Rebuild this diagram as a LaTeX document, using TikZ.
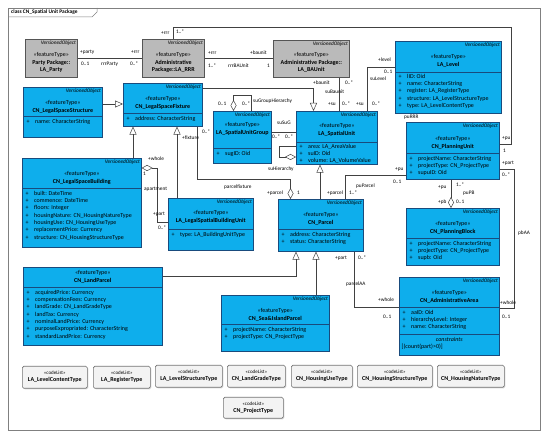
\documentclass[tikz,border=0pt]{standalone}
\usepackage{fontspec}
\setmainfont{Carlito}
\usepackage{xcolor}
\usetikzlibrary{positioning,arrows.meta,shadows}

\definecolor{clsfill}{RGB}{14,174,236}
\definecolor{clsline}{RGB}{25,75,125}
\definecolor{pkgfill}{RGB}{186,186,186}
\definecolor{pkgline}{RGB}{85,85,85}
\definecolor{cdfill}{RGB}{243,243,243}
\definecolor{cdline}{RGB}{115,115,115}
\definecolor{wirecol}{RGB}{65,65,65}

\newcommand{\attr}[1]{\makebox[8.5pt][l]{+}#1}

\begin{document}
\begin{tikzpicture}[x=1pt, y=-1pt,
    cls/.style={rectangle, draw=clsline, line width=0.6pt, fill=clsfill, anchor=north west, inner sep=0pt,
        drop shadow={shadow xshift=1pt, shadow yshift=-1pt, opacity=0.3}},
    pkg/.style={cls, draw=pkgline, fill=pkgfill},
    cdl/.style={cls, draw=cdline, fill=cdfill, rounded corners=1.5pt},
    vo/.style={anchor=north east, inner sep=1.5pt, font=\fontsize{5.3}{6}\selectfont\itshape},
    hd/.style={anchor=north, inner sep=0pt, align=center, font=\fontsize{6}{7.7}\selectfont},
    attrs/.style={anchor=north west, inner sep=0pt, align=left, font=\fontsize{6}{7.3}\selectfont},
    div/.style={draw=clsline, line width=0.6pt},
    lbl/.style={anchor=west, inner sep=0pt, font=\fontsize{5.3}{6}\selectfont},
    wire/.style={draw=wirecol, line width=0.5pt},
    gen/.style={wire, -{Triangle[open, length=8pt, width=7pt]}},
    agg/.style={wire, {Diamond[open, length=11pt, width=6pt]}-}
]
\useasboundingbox (0,0) rectangle (550,441);

% frame
\node[draw=gray, line width=0.6pt, minimum width=532, minimum height=422, anchor=north west, inner sep=0pt] (frame) at (8,8) {};
\draw[gray, line width=0.5pt] (8,17) -- (92,17) -- (97,12) -- (97,8);
\node[anchor=west, inner sep=0pt, font=\fontsize{5.4}{6}\selectfont\bfseries] (title) at (11,12.5) {class CN\_Spatial Unit Package};

% packages
\node[pkg, minimum width=52, minimum height=38] (party) at (25,39) {};
\node[vo] (party-vo) at (party.north east) {VersionedObject};
\node[hd, below=13pt of party.north] (party-hd) {«featureType»\\\textbf{Party Package::}\\\textbf{LA\_Party}};

\node[pkg, minimum width=62, minimum height=38] (rrr) at (142,39) {};
\node[vo] (rrr-vo) at (rrr.north east) {VersionedObject};
\node[hd, below=13pt of rrr.north] (rrr-hd) {«featureType»\\\textbf{Administrative}\\\textbf{Package::LA\_RRR}};

\node[pkg, minimum width=76, minimum height=37] (baunit) at (273,40) {};
\node[vo] (baunit-vo) at (baunit.north east) {VersionedObject};
\node[hd, below=12pt of baunit.north] (baunit-hd) {«featureType»\\\textbf{Administrative Package::}\\\textbf{LA\_BAUnit}};

% level
\node[cls, minimum width=106, minimum height=72] (level) at (395,41) {};
\node[vo] (level-vo) at (level.north east) {VersionedObject};
\node[hd, below=13pt of level.north] (level-hd) {«featureType»\\\textbf{LA\_Level}};
\draw[div] ([yshift=-31pt]level.north west) -- ([yshift=-31pt]level.north east);
\node[attrs, below right=33pt and 3.5pt of level.north west] (level-at) {\attr{lID: Oid}\\\attr{name: CharacterString}\\\attr{register: LA\_RegisterType}\\\attr{structure: LA\_LevelStructureType}\\\attr{type: LA\_LevelContentType}};

% legal space structure / fixture
\node[cls, minimum width=79, minimum height=50] (lss) at (23,87) {};
\node[vo] (lss-vo) at (lss.north east) {VersionedObject};
\node[hd, below=13pt of lss.north] (lss-hd) {«featureType»\\\textbf{CN\_LegalSpaceStructure}};
\draw[div] ([yshift=-29pt]lss.north west) -- ([yshift=-29pt]lss.north east);
\node[attrs, below right=32pt and 3.5pt of lss.north west] (lss-at) {\attr{name: CharacterString}};

\node[cls, minimum width=79, minimum height=43] (lsf) at (123,83) {};
\node[vo] (lsf-vo) at (lsf.north east) {VersionedObject};
\node[hd, below=13pt of lsf.north] (lsf-hd) {«featureType»\\\textbf{CN\_LegalSpaceFixture}};
\draw[div] ([yshift=-30pt]lsf.north west) -- ([yshift=-30pt]lsf.north east);
\node[attrs, below right=33pt and 3.5pt of lsf.north west] (lsf-at) {\attr{address: CharacterString}};

% spatial unit group / spatial unit
\node[cls, minimum width=58, minimum height=52] (sug) at (213,111) {};
\node[vo] (sug-vo) at (sug.north east) {VersionedObject};
\node[hd, below=11.5pt of sug.north] (sug-hd) {«featureType»\\\textbf{LA\_SpatialUnitGroup}};
\draw[div] ([yshift=-37pt]sug.north west) -- ([yshift=-37pt]sug.north east);
\node[attrs, below right=40pt and 3.5pt of sug.north west] (sug-at) {\attr{sugID: Oid}};

\node[cls, minimum width=81, minimum height=53] (su) at (296,111) {};
\node[vo] (su-vo) at (su.north east) {VersionedObject};
\node[hd, below=12pt of su.north] (su-hd) {«featureType»\\\textbf{LA\_SpatialUnit}};
\draw[div] ([yshift=-31pt]su.north west) -- ([yshift=-31pt]su.north east);
\node[attrs, below right=33pt and 3.5pt of su.north west] (su-at) {\attr{area: LA\_AreaValue}\\\attr{suID: Oid}\\\attr{volume: LA\_VolumeValue}};

% planning unit / block
\node[cls, minimum width=93, minimum height=57] (pu) at (406,122) {};
\node[vo] (pu-vo) at (pu.north east) {VersionedObject};
\node[hd, below=14pt of pu.north] (pu-hd) {«featureType»\\\textbf{CN\_PlanningUnit}};
\draw[div] ([yshift=-31pt]pu.north west) -- ([yshift=-31pt]pu.north east);
\node[attrs, below right=34pt and 3.5pt of pu.north west] (pu-at) {\attr{projectName: CharacterString}\\\attr{projectType: CN\_ProjectType}\\\attr{supuID: Oid}};

\node[cls, minimum width=93, minimum height=57] (pb) at (406,208) {};
\node[vo] (pb-vo) at (pb.north east) {VersionedObject};
\node[hd, below=13pt of pb.north] (pb-hd) {«featureType»\\\textbf{CN\_PlanningBlock}};
\draw[div] ([yshift=-30pt]pb.north west) -- ([yshift=-30pt]pb.north east);
\node[attrs, below right=33pt and 3.5pt of pb.north west] (pb-at) {\attr{projectName: CharacterString}\\\attr{projectType: CN\_ProjectType}\\\attr{supb: Oid}};

% legal space building / unit
\node[cls, minimum width=119, minimum height=89] (lsb) at (22,158) {};
\node[vo] (lsb-vo) at (lsb.north east) {VersionedObject};
\node[hd, below=13pt of lsb.north] (lsb-hd) {«featureType»\\\textbf{CN\_LegalSpaceBuilding}};
\draw[div] ([yshift=-30pt]lsb.north west) -- ([yshift=-30pt]lsb.north east);
\node[attrs, below right=33pt and 3.5pt of lsb.north west] (lsb-at) {\attr{built: DateTime}\\\attr{commence: DateTime}\\\attr{floors: Integer}\\\attr{housingNature: CN\_HousingNatureType}\\\attr{housingUse: CN\_HousingUseType}\\\attr{replacementPrice: Currency}\\\attr{structure: CN\_HousingStructureType}};

\node[cls, minimum width=85, minimum height=52] (lsbu) at (168,198) {};
\node[vo] (lsbu-vo) at (lsbu.north east) {VersionedObject};
\node[hd, below=12pt of lsbu.north] (lsbu-hd) {«featureType»\\\textbf{LA\_LegalSpatialBuildingUnit}};
\draw[div] ([yshift=-31pt]lsbu.north west) -- ([yshift=-31pt]lsbu.north east);
\node[attrs, below right=34pt and 3.5pt of lsbu.north west] (lsbu-at) {\attr{type: LA\_BuildingUnitType}};

% parcels
\node[cls, minimum width=85, minimum height=52] (parcel) at (278,199) {};
\node[vo] (parcel-vo) at (parcel.north east) {VersionedObject};
\node[hd, below=13pt of parcel.north] (parcel-hd) {«featureType»\\\textbf{CN\_Parcel}};
\draw[div] ([yshift=-30pt]parcel.north west) -- ([yshift=-30pt]parcel.north east);
\node[attrs, below right=33pt and 3.5pt of parcel.north west] (parcel-at) {\attr{address: CharacterString}\\\attr{status: CharacterString}};

\node[cls, minimum width=139, minimum height=78] (landp) at (23,267) {};
\node[hd, below=3pt of landp.north] (landp-hd) {«featureType»\\\textbf{CN\_LandParcel}};
\draw[div] ([yshift=-20pt]landp.north west) -- ([yshift=-20pt]landp.north east);
\node[attrs, below right=23pt and 3.5pt of landp.north west] (landp-at) {\attr{acquiredPrice: Currency}\\\attr{compensationFees: Currency}\\\attr{landGrade: CN\_LandGradeType}\\\attr{landTax: Currency}\\\attr{nominalLandPrice: Currency}\\\attr{purposeExpropriated: CharacterString}\\\attr{standardLandPrice: Currency}};

\node[cls, minimum width=108, minimum height=56] (seap) at (221,295) {};
\node[vo] (seap-vo) at (seap.north east) {VersionedObject};
\node[hd, below=13pt of seap.north] (seap-hd) {«featureType»\\\textbf{CN\_Sea\&IslandParcel}};
\draw[div] ([yshift=-29pt]seap.north west) -- ([yshift=-29pt]seap.north east);
\node[attrs, below right=32pt and 3.5pt of seap.north west] (seap-at) {\attr{projectName: CharacterString}\\\attr{projectType: CN\_ProjectType}};

% administrative area
\node[cls, minimum width=100, minimum height=78] (aa) at (399,277) {};
\node[vo] (aa-vo) at (aa.north east) {VersionedObject};
\node[hd, below=13pt of aa.north] (aa-hd) {«featureType»\\\textbf{CN\_AdministrativeArea}};
\draw[div] ([yshift=-30pt]aa.north west) -- ([yshift=-30pt]aa.north east);
\node[attrs, below right=33pt and 3.5pt of aa.north west] (aa-at) {\attr{aaID: Oid}\\\attr{hierarchyLevel: Integer}\\\attr{name: CharacterString}};
\draw[div] ([yshift=-57pt]aa.north west) -- ([yshift=-57pt]aa.north east);
\node[hd, below=60pt of aa.north] (aa-cn) {\textit{constraints}};
\node[attrs, below right=67pt and 2.5pt of aa.north west] (aa-ct) {[(count(part)>0)]};

% code lists
\node[cdl, minimum width=65, minimum height=22] (lct) at (22,366) {};
\node[hd, below=4.5pt of lct.north] (lct-hd) {{\fontsize{5}{6}\selectfont«codeList»}\\\textbf{LA\_LevelContentType}};
\node[cdl, minimum width=57, minimum height=22] (rgt) at (93,366) {};
\node[hd, below=4.5pt of rgt.north] (rgt-hd) {{\fontsize{5}{6}\selectfont«codeList»}\\\textbf{LA\_RegisterType}};
\node[cdl, minimum width=67, minimum height=22] (lst) at (155,365) {};
\node[hd, below=4.5pt of lst.north] (lst-hd) {{\fontsize{5}{6}\selectfont«codeList»}\\\textbf{LA\_LevelStructureType}};
\node[cdl, minimum width=58, minimum height=22] (lgt) at (227,365) {};
\node[hd, below=4.5pt of lgt.north] (lgt-hd) {{\fontsize{5}{6}\selectfont«codeList»}\\\textbf{CN\_LandGradeType}};
\node[cdl, minimum width=61, minimum height=22] (hut) at (291,365) {};
\node[hd, below=4.5pt of hut.north] (hut-hd) {{\fontsize{5}{6}\selectfont«codeList»}\\\textbf{CN\_HousingUseType}};
\node[cdl, minimum width=75, minimum height=22] (hst) at (357,365) {};
\node[hd, below=4.5pt of hst.north] (hst-hd) {{\fontsize{5}{6}\selectfont«codeList»}\\\textbf{CN\_HousingStructureType}};
\node[cdl, minimum width=67, minimum height=22] (hnt) at (437,365) {};
\node[hd, below=4.5pt of hnt.north] (hnt-hd) {{\fontsize{5}{6}\selectfont«codeList»}\\\textbf{CN\_HousingNatureType}};
\node[cdl, minimum width=60, minimum height=21] (prt) at (223,397) {};
\node[hd, below=4.5pt of prt.north] (prt-hd) {{\fontsize{5}{6}\selectfont«codeList»}\\\textbf{CN\_ProjectType}};

% connectors
\draw[wire] (party.east) -- (rrr.west);
\draw[wire] (rrr.east) -- (baunit.west |- rrr.east);
\draw[wire] (rrr.north) |- (511,27) |- (pu.north east |- 0,144);
\draw[wire] (baunit.south -| 339,0) -- (su.north -| 339,0);
\draw[wire] (level.west |- 0,67) -| (su.north -| 367,0);
\draw[gen] (lss.east |- 0,104) -- (lsf.west |- 0,104);
\draw[gen] (lsb.north -| 133,0) -- (lsf.south -| 133,0);
\draw[gen] (lsbu.north -| 177,0) -- (lsf.south -| 177,0);
\draw[agg] (lsb.east |- 0,168) -| (157,222) -- (lsbu.west |- 0,222);
\draw[agg] (sug.north -| 233.5,0) |- (251,95) -- (sug.north -| 251,0);
\draw[wire] (sug.east |- 0,132) -- (su.west |- 0,132);
\draw[agg] (su.west |- 0,157) -| (279,146) -- (su.west |- 0,146);
\draw[gen] (lsf.east |- 0,88) -| (su.north -| 313.5,0);
\draw[agg] (parcel.north -| 290.5,0) |- (197,179) -- (lsf.south -| 197,0);
\draw[gen] (parcel.north -| 320,0) -- (su.south -| 320,0);
\draw[wire] (pu.west |- 0,175) -| (parcel.north -| 345,0);
\draw[agg] (pb.north -| 451,0) -- (pu.south -| 451,0);
\draw[wire] (pu.east |- 0,169) -| (514,308) -- (aa.east |- 0,308);
\draw[wire] (parcel.south -| 354,0) |- (aa.west |- 0,307);
\draw[gen] (landp.east |- 0,276) -| (parcel.south -| 296,0);
\draw[gen] (seap.north -| 316,0) -- (parcel.south -| 316,0);

% connector labels
\node[lbl] (l-party) at (80,52) {+party};
\node[lbl] (l-party-m) at (81,64) {0..1};
\node[lbl] (l-rrrparty) at (101,64) {rrrParty};
\node[lbl] (l-rrr-a) at (131,52) {+rrr};
\node[lbl] (l-rrr-am) at (130,64) {0..*};
\node[lbl] (l-rrr-b) at (208,53) {+rrr};
\node[lbl] (l-rrr-bm) at (208,66) {1..*};
\node[lbl] (l-rrrbaunit) at (228,66) {rrrBAUnit};
\node[lbl] (l-baunit-a) at (250,53) {+baunit};
\node[lbl] (l-baunit-am) at (267,66) {1};
\node[lbl] (l-rrr-c) at (161,33) {+rrr};
\node[lbl] (l-rrr-cm) at (176,32) {1..*};
\node[lbl] (l-purrr) at (404,117.5) {puRRR};
\node[lbl] (l-pu-a) at (502,138) {+pu};
\node[lbl] (l-pu-am) at (503,151) {1};
\node[lbl] (l-baunit-b) at (313,83) {+baunit};
\node[lbl] (l-baunit-bm) at (345,83) {0..*};
\node[lbl] (l-subaunit) at (325,92) {suBaunit};
\node[lbl] (l-su-a) at (328,104) {+su};
\node[lbl] (l-su-am) at (342,104) {0..*};
\node[lbl] (l-level) at (378,60) {+level};
\node[lbl] (l-level-m) at (384,72) {0..1};
\node[lbl] (l-sulevel) at (370,79) {suLevel};
\node[lbl] (l-su-b) at (356,104) {+su};
\node[lbl] (l-su-bm) at (372,104) {0..*};
\node[lbl] (l-sug-a) at (218,104) {0..1};
\node[lbl] (l-sug-b) at (242,104) {0..*};
\node[lbl] (l-sugh) at (253,101) {suGroupHierarchy};
\node[lbl] (l-susug) at (277,123) {suSuG};
\node[lbl] (l-susug-a) at (272,137) {0..*};
\node[lbl] (l-susug-b) at (285,137) {0..*};
\node[lbl] (l-suh) at (268,169) {suHierarchy};
\node[lbl] (l-fixture) at (182,138) {+fixture};
\node[lbl] (l-fixture-m) at (202,132) {0..*};
\node[lbl] (l-parcelfixture) at (224,187) {parcelfixture};
\node[lbl] (l-parcel-a) at (267,193) {+parcel};
\node[lbl] (l-parcel-am) at (297,193) {1};
\node[lbl] (l-whole-a) at (148,159) {+whole};
\node[lbl] (l-whole-am) at (143,174) {1};
\node[lbl] (l-apartment) at (144,189) {apartment};
\node[lbl] (l-part-a) at (153,214) {+part};
\node[lbl] (l-part-am) at (158,228) {0..*};
\node[lbl] (l-parcel-b) at (327,193) {+parcel};
\node[lbl] (l-parcel-bm) at (349,193) {1..*};
\node[lbl] (l-puparcel) at (356,186) {puParcel};
\node[lbl] (l-pu-b) at (395,169) {+pu};
\node[lbl] (l-pu-bm) at (393,182) {0..1};
\node[lbl] (l-pu-c) at (438,187) {+pu};
\node[lbl] (l-pu-cm) at (456,185) {1..*};
\node[lbl] (l-pupb) at (463,193) {puPB};
\node[lbl] (l-pb) at (438,202) {+pb};
\node[lbl] (l-pb-m) at (456,202) {0..1};
\node[lbl] (l-part-b) at (502,163) {+part};
\node[lbl] (l-part-bm) at (502,175) {0..*};
\node[lbl] (l-pbaa) at (518,233) {pbAA};
\node[lbl] (l-whole-b) at (500,303) {+whole};
\node[lbl] (l-whole-bm) at (502,317) {0..1};
\node[lbl] (l-part-c) at (335,258) {+part};
\node[lbl] (l-part-cm) at (358,258) {0..*};
\node[lbl] (l-parcelaa) at (346,284) {parcelAA};
\node[lbl] (l-whole-c) at (378,300) {+whole};
\node[lbl] (l-whole-cm) at (383,317) {0..1};
\end{tikzpicture}
\end{document}
